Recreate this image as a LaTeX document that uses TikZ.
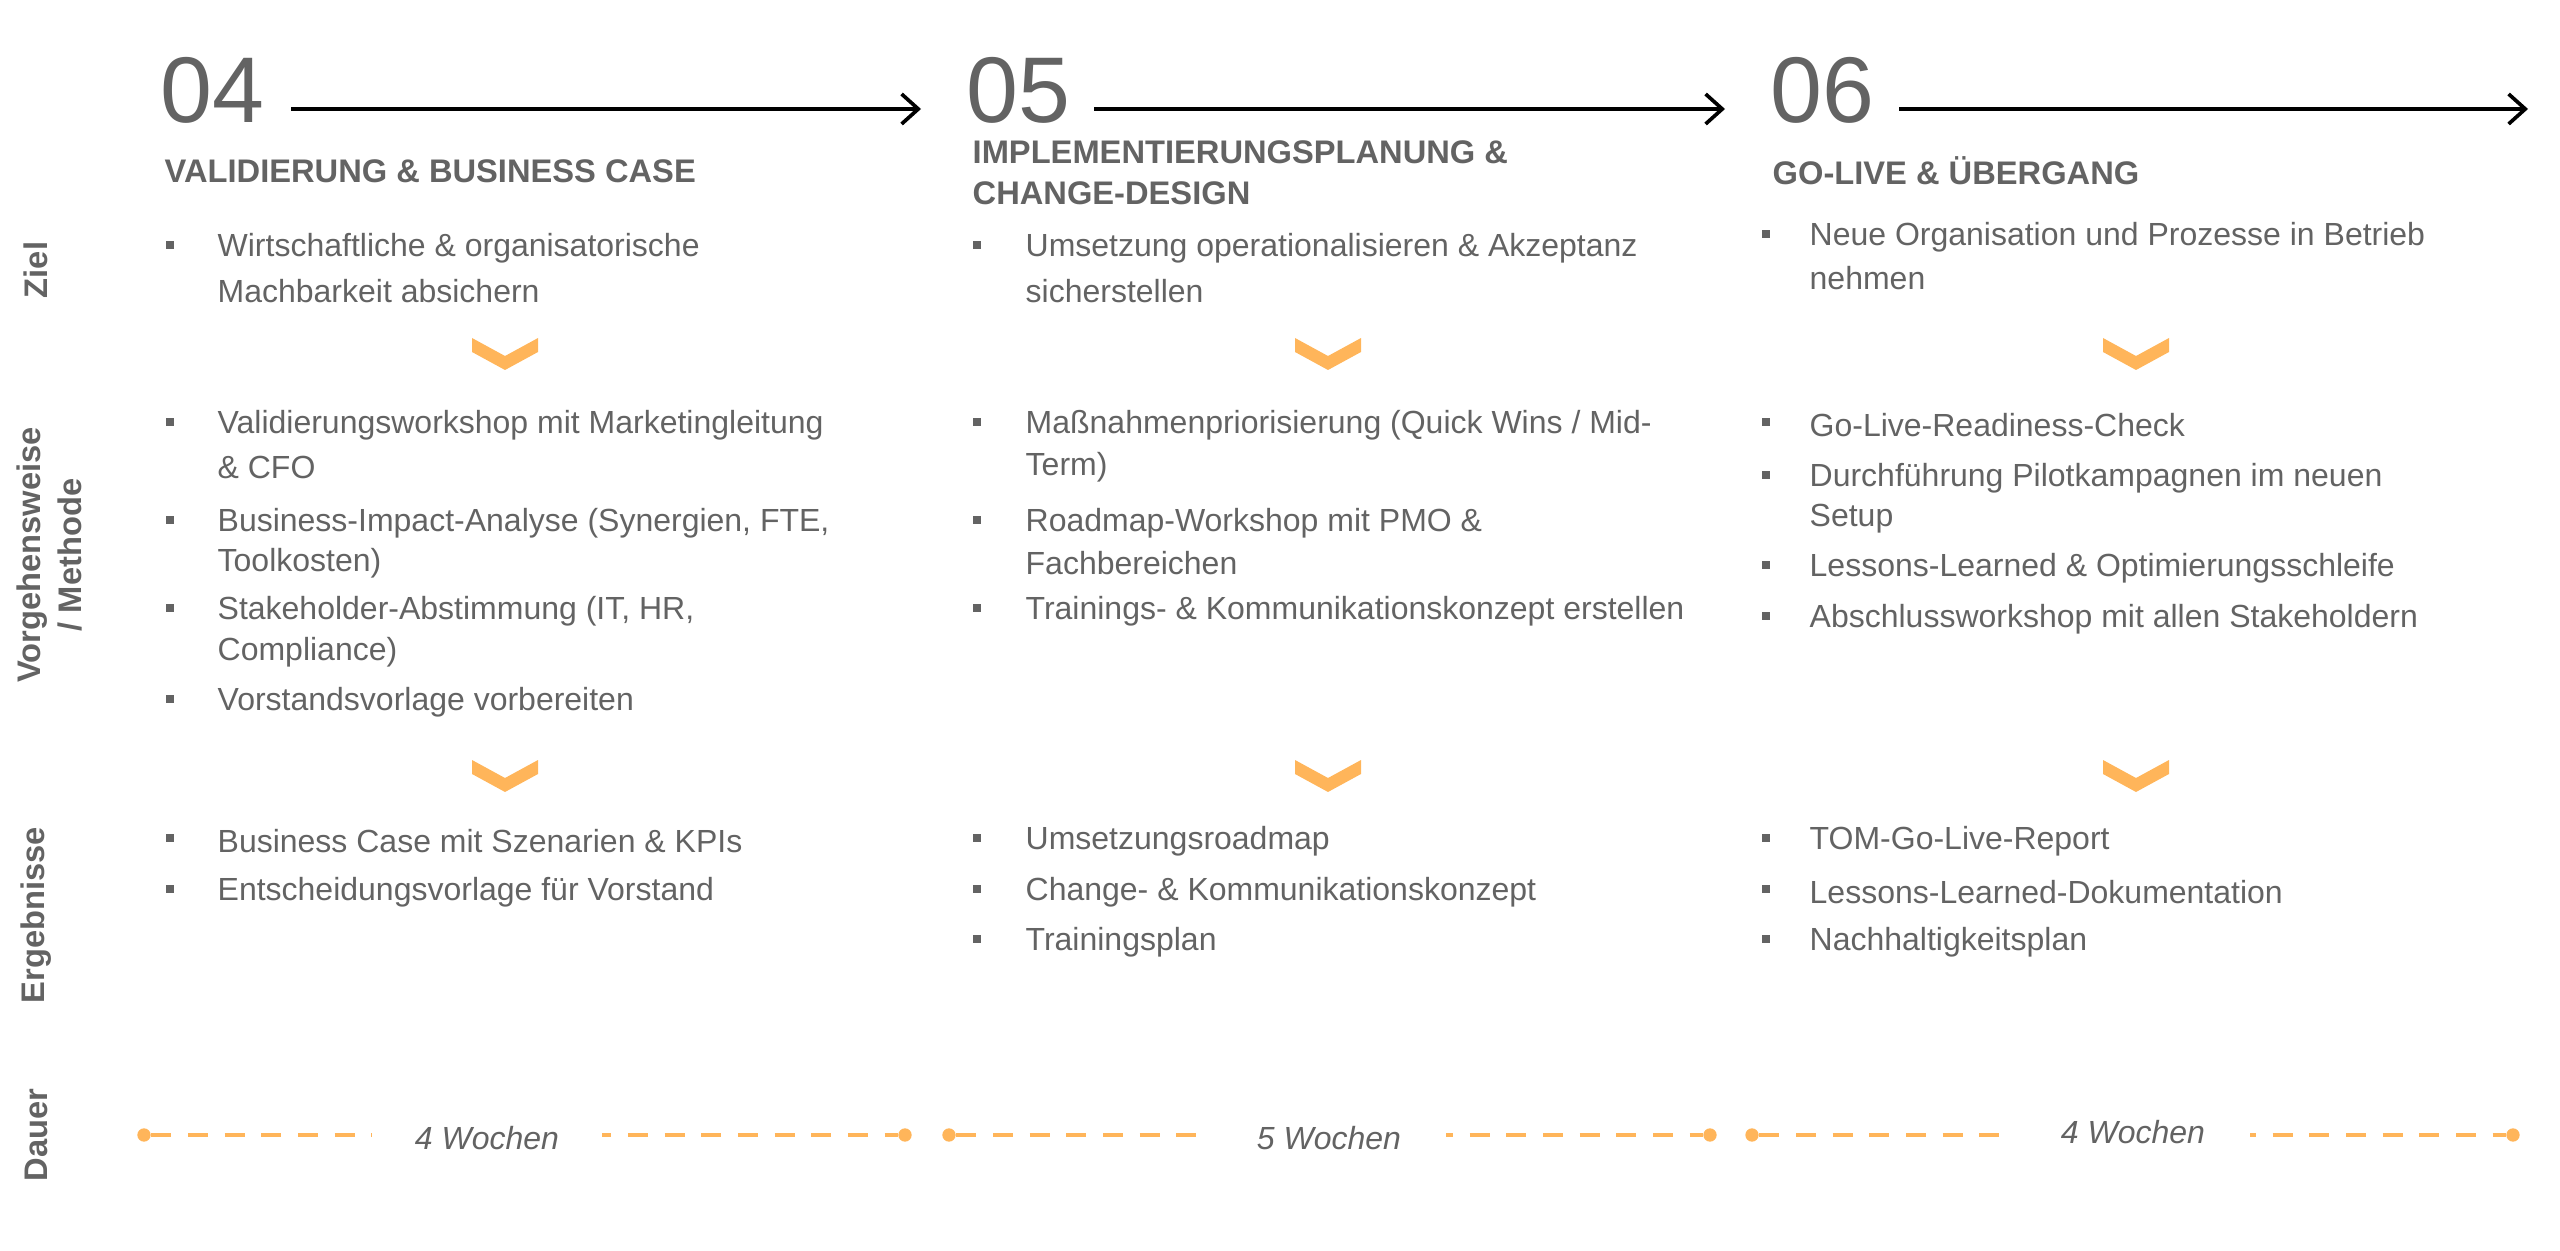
\documentclass[tikz,border=0pt]{standalone}
\usetikzlibrary{arrows.meta}
\usepackage{fontspec}
\setmainfont{Liberation Sans}
\definecolor{tg}{HTML}{636363}
\definecolor{og}{HTML}{FFB55A}
\begin{document}
\begin{tikzpicture}[x=0.3pt,y=-0.3pt,
  txt/.style={anchor=west,inner sep=0,text=tg,font=\fontsize{9.6}{12.3}\selectfont},
  hd/.style={anchor=west,inner sep=0,text=tg,font=\fontsize{9.8}{12.3}\selectfont\bfseries},
  num/.style={anchor=west,inner sep=0,text=tg,font=\fontsize{28}{30}\selectfont},
  rowlab/.style={rotate=90,inner sep=0,text=tg,align=center,font=\fontsize{9.8}{12.3}\selectfont\bfseries},
  blt/.style={fill=tg,minimum size=2.4pt,inner sep=0},
  chev/.style={fill=og},
  dur/.style={og,line width=1.3pt,dash pattern=on 6pt off 5pt},
  dot/.style={circle,fill=og,minimum size=4pt,inner sep=0},
  wk/.style={fill=white,inner sep=3pt,text=tg,font=\fontsize{9.6}{12}\selectfont\itshape}]
\useasboundingbox (0,0) rectangle (2560,1251);
% row labels
\node[rowlab] (rz) at (36,270) {Ziel};
\node[rowlab] (rv) at (49,555) {Vorgehensweise\\/ Methode};
\node[rowlab] (re) at (36,915) {Ergebnisse};
\node[rowlab] (rd) at (36,1135) {Dauer};
% numbers and arrows
\node[num] (n4) at (160,90) {04};
\node[num] (n5) at (966,90) {05};
\node[num] (n6) at (1770,90) {06};
\coordinate (a4s) at (291,109); \coordinate (a4e) at (921,109);
\coordinate (a5s) at (1094,109); \coordinate (a5e) at (1725,109);
\coordinate (a6s) at (1899,109); \coordinate (a6e) at (2528,109);
\foreach \s/\e in {a4s/a4e,a5s/a5e,a6s/a6e}
  \draw[line width=1.1pt,-{Straight Barb[length=5pt,width=9pt]}] (\s) -- (\e);
% headings
\node[hd] (h4) at (164,171) {VALIDIERUNG \& BUSINESS CASE};
\node[hd] (h5a) at (972,152) {IMPLEMENTIERUNGSPLANUNG \&};
\node[hd] (h5b) at (972,193) {CHANGE-DESIGN};
\node[hd] (h6) at (1772,171) {GO-LIVE \& ÜBERGANG};
% bullet items: column x positions
\def\bA{170}\def\tA{217}
\def\bB{977}\def\tB{1025}
\def\bC{1766}\def\tC{1809}
\newcommand{\itm}[5]{\node[blt] (#1b) at (#2,#4-3) {};\node[txt] (#1) at (#3,#4) {#5};}
\newcommand{\cont}[4]{\node[txt] (#1) at (#2,#3) {#4};}
% Ziel
\itm{z1}{\bA}{\tA}{248}{Wirtschaftliche \& organisatorische}
\cont{z1c}{\tA}{291}{Machbarkeit absichern}
\itm{z2}{\bB}{\tB}{248}{Umsetzung operationalisieren \& Akzeptanz}
\cont{z2c}{\tB}{291}{sicherstellen}
\itm{z3}{\bC}{\tC}{237}{Neue Organisation und Prozesse in Betrieb}
\cont{z3c}{\tC}{278}{nehmen}
% Vorgehen col1
\itm{v1}{\bA}{\tA}{425}{Validierungsworkshop mit Marketingleitung}
\cont{v1c}{\tA}{467}{\& CFO}
\itm{v2}{\bA}{\tA}{523}{Business-Impact-Analyse (Synergien, FTE,}
\cont{v2c}{\tA}{563}{Toolkosten)}
\itm{v3}{\bA}{\tA}{611}{Stakeholder-Abstimmung (IT, HR,}
\cont{v3c}{\tA}{652}{Compliance)}
\itm{v4}{\bA}{\tA}{702}{Vorstandsvorlage vorbereiten}
% col2
\itm{w1}{\bB}{\tB}{425}{Maßnahmenpriorisierung (Quick Wins / Mid-}
\cont{w1c}{\tB}{467}{Term)}
\itm{w2}{\bB}{\tB}{523}{Roadmap-Workshop mit PMO \&}
\cont{w2c}{\tB}{563}{Fachbereichen}
\itm{w3}{\bB}{\tB}{611}{Trainings- \& Kommunikationskonzept erstellen}
% col3
\itm{x1}{\bC}{\tC}{425}{Go-Live-Readiness-Check}
\itm{x2}{\bC}{\tC}{478}{Durchführung Pilotkampagnen im neuen}
\cont{x2c}{\tC}{519}{Setup}
\itm{x3}{\bC}{\tC}{568}{Lessons-Learned \& Optimierungsschleife}
\itm{x4}{\bC}{\tC}{619}{Abschlussworkshop mit allen Stakeholdern}
% Ergebnisse
\itm{e1}{\bA}{\tA}{841}{Business Case mit Szenarien \& KPIs}
\itm{e2}{\bA}{\tA}{892}{Entscheidungsvorlage für Vorstand}
\itm{f1}{\bB}{\tB}{841}{Umsetzungsroadmap}
\itm{f2}{\bB}{\tB}{892}{Change- \& Kommunikationskonzept}
\itm{f3}{\bB}{\tB}{942}{Trainingsplan}
\itm{g1}{\bC}{\tC}{841}{TOM-Go-Live-Report}
\itm{g2}{\bC}{\tC}{892}{Lessons-Learned-Dokumentation}
\itm{g3}{\bC}{\tC}{942}{Nachhaltigkeitsplan}
% chevrons
\foreach \cx/\cy in {505/354,1328/354,2136/354,505/776,1328/776,2136/776}
  \fill[chev] (\cx-33,\cy-16) -- (\cx,\cy+2) -- (\cx+33,\cy-16) -- (\cx+33,\cy-2) -- (\cx,\cy+16) -- (\cx-33,\cy-2) -- cycle;
% Dauer
\node[dot] (d1a) at (144,1135) {}; \node[dot] (d1b) at (905,1135) {};
\node[dot] (d2a) at (949,1135) {}; \node[dot] (d2b) at (1710,1135) {};
\node[dot] (d3a) at (1752,1135) {}; \node[dot] (d3b) at (2513,1135) {};
\draw[dur] (d1a) -- (d1b);
\draw[dur] (d2a) -- (d2b);
\draw[dur] (d3a) -- (d3b);
\node[wk,minimum width=69pt] (l1) at (487,1138) {4 Wochen};
\node[wk,minimum width=70pt] (l2) at (1329,1138) {5 Wochen};
\node[wk,minimum width=70pt] (l3) at (2133,1132) {4 Wochen};
\end{tikzpicture}
\end{document}
